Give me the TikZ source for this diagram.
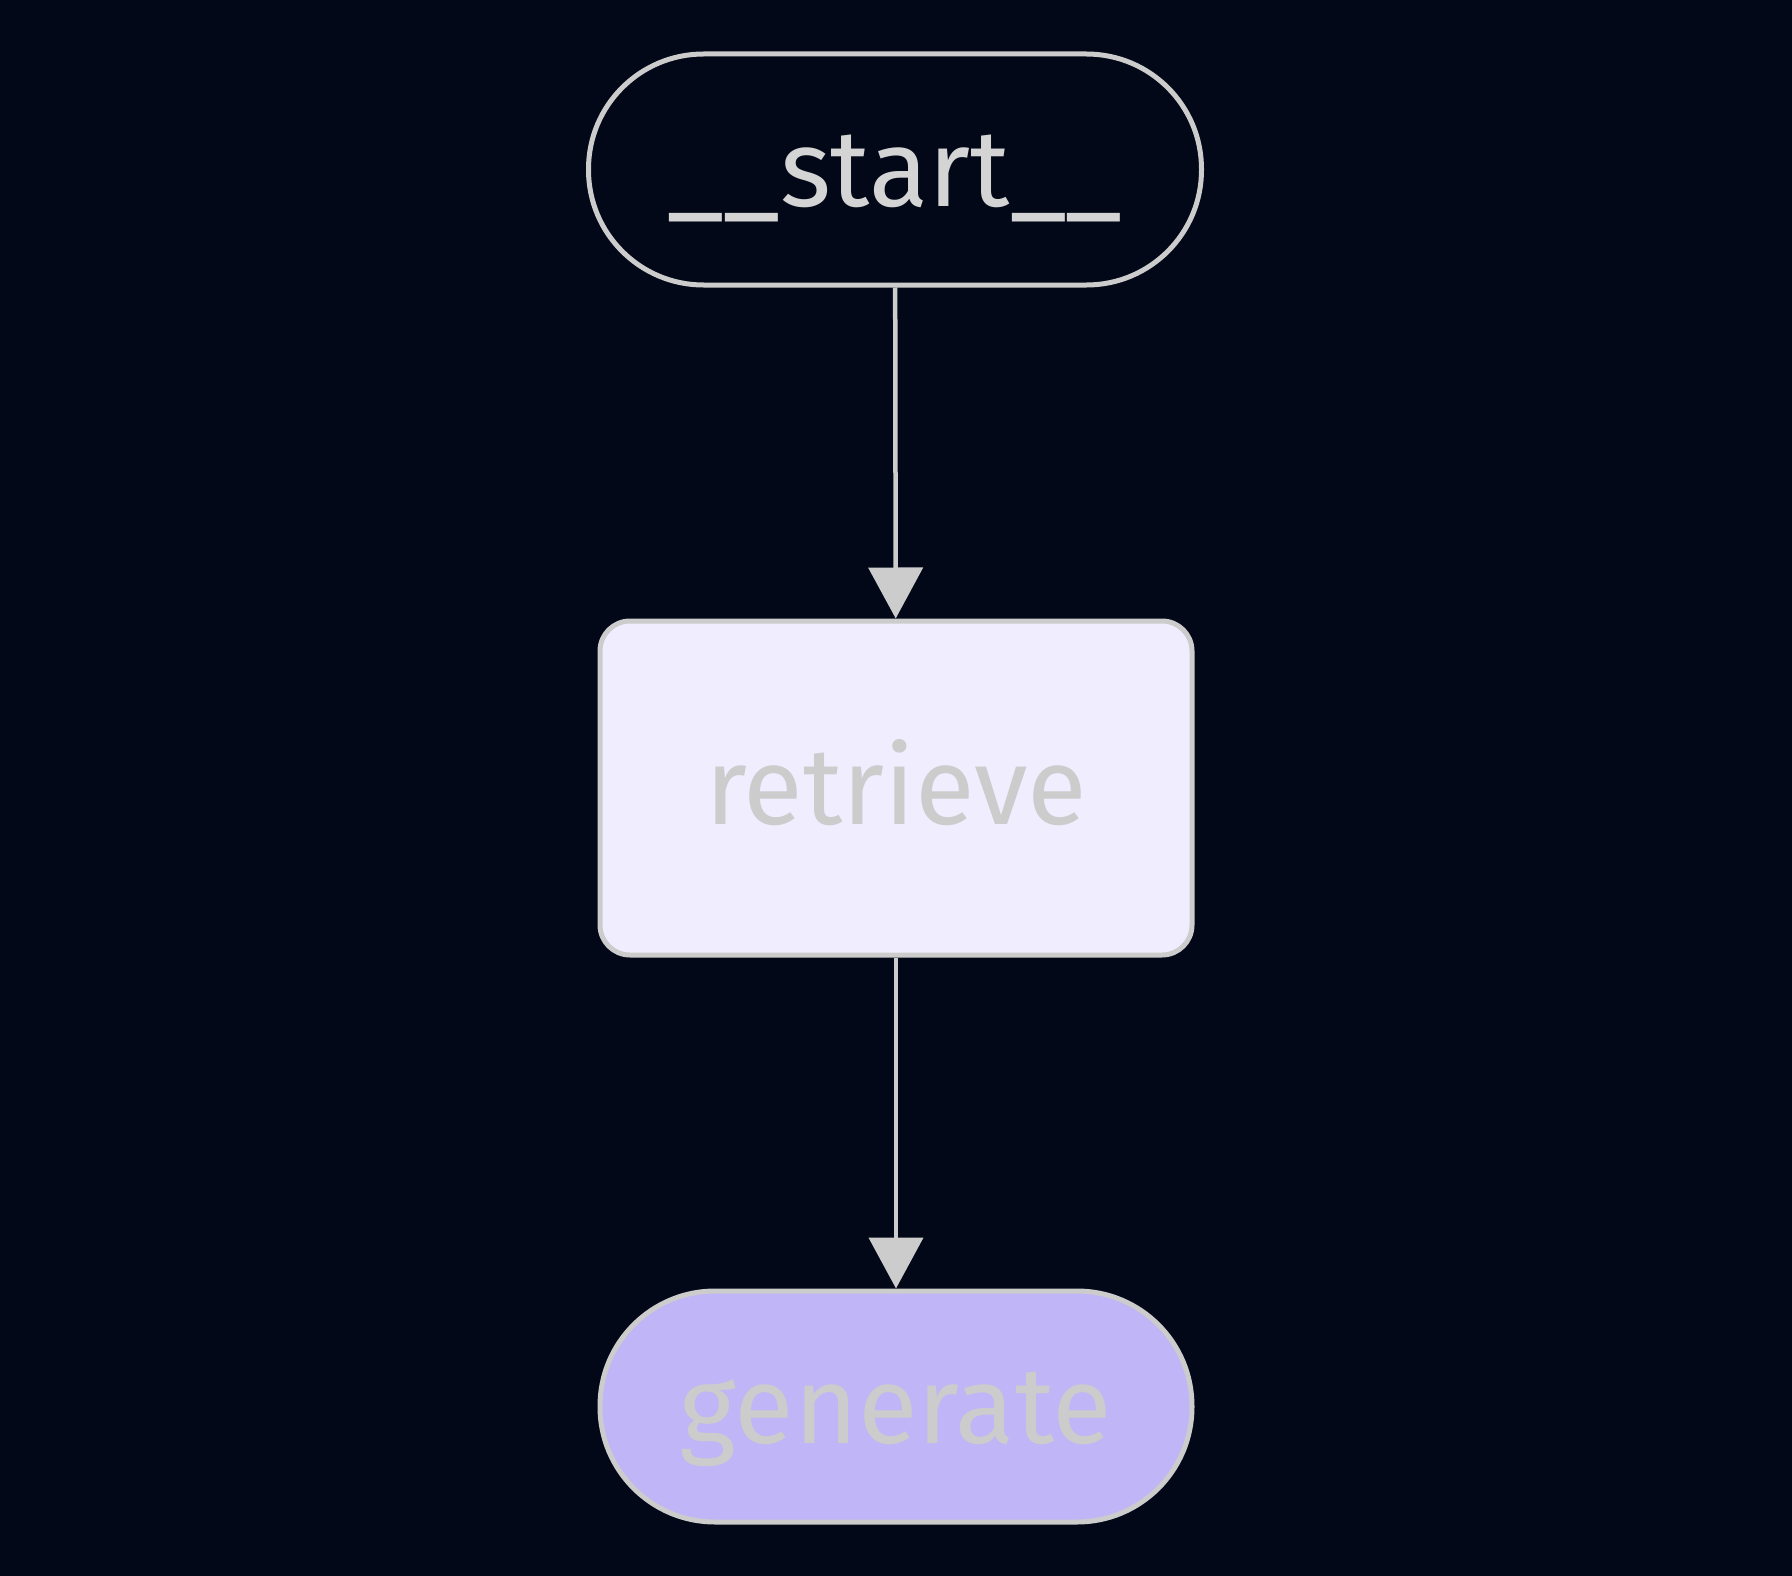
\documentclass[tikz,border=0pt]{standalone}
\usepackage{fontspec}
\setmainfont{Fira Sans}
\usetikzlibrary{arrows.meta}
\definecolor{bgc}{HTML}{020817}
\definecolor{strokec}{HTML}{CCCCCC}
\definecolor{textc}{HTML}{CCCCCC}
\definecolor{starttext}{HTML}{D4D4D4}
\definecolor{retfill}{HTML}{F0EEFE}
\definecolor{genfill}{HTML}{BFB5F7}
\tikzset{
  basenode/.style={draw=strokec, line width=5pt, font=\fontsize{109}{120}\selectfont,
    text height=73pt, text depth=0pt, inner sep=0pt, text=textc},
  pill/.style={basenode, minimum height=231pt, rounded corners=115pt},
  boxnode/.style={basenode, minimum width=592pt, minimum height=334pt, rounded corners=30pt},
  conn/.style={draw=strokec, line width=4.5pt, -{Triangle[length=51pt,width=54pt]}}
}
\begin{document}
\begin{tikzpicture}[x=1pt,y=-1pt]
\fill[bgc] (0,0) rectangle (1792,1576);
\useasboundingbox (0,0) rectangle (1792,1576);
\node[pill, minimum width=613pt, fill=bgc, text=starttext] (start) at (895,169.5) {\_\_start\_\_};
\node[boxnode, fill=retfill] (retrieve) at (896,788) {retrieve};
\node[pill, minimum width=592pt, fill=genfill] (generate) at (896,1406.5) {generate};
\draw[conn] (start) -- (retrieve);
\draw[conn] (retrieve) -- (generate);
\end{tikzpicture}
\end{document}
